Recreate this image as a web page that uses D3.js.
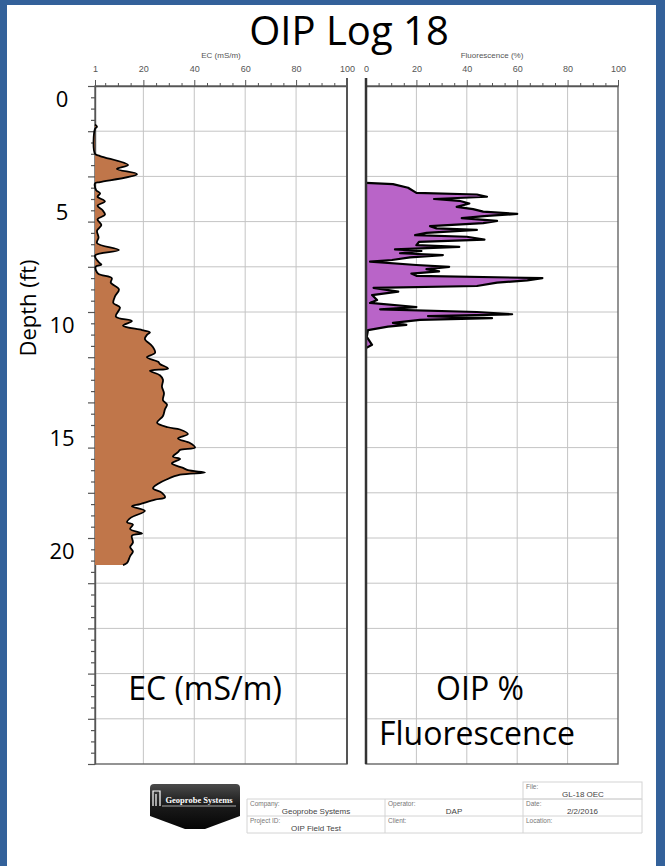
<!DOCTYPE html>
<html>
<head>
<meta charset="utf-8">
<script src="https://cdn.jsdelivr.net/npm/d3@7"></script>
<style>
  html, body { margin: 0; padding: 0; background: #fff; }
  svg { display: block; }
</style>
</head>
<body>
<script>
// EC log: depth (ft) and EC (mS/m)
const ecDepth = [1.7, 1.8, 1.9, 3.0, 3.1, 3.5, 3.67, 3.9, 4.25, 4.3,
  4.6, 4.75, 4.9, 5.1, 5.3, 5.5, 5.7, 5.9, 6.15, 6.4, 6.7, 6.95, 7.26, 7.5,
  7.8, 7.9, 8.0, 8.3, 8.5, 8.7, 9.0, 9.3, 9.6, 9.8, 10.2, 10.4, 10.6, 10.8, 10.9, 11.0,
  11.2, 11.5, 11.8, 12.0, 12.2, 12.3, 12.5, 12.6, 12.8, 13.0, 13.3, 13.6, 13.9,
  14.1, 14.3, 14.6, 14.9, 15.1, 15.2, 15.4, 15.6, 15.8, 16.0, 16.1, 16.2, 16.4,
  16.5, 16.7, 16.9, 17.0, 17.1, 17.2, 17.4, 17.6, 17.8, 18.0, 18.2, 18.3, 18.5,
  18.6, 18.8, 19.1, 19.3, 19.4, 19.6, 19.8, 19.9, 20.2, 20.4, 20.6, 20.8, 21.1, 21.2];
const ecValue = [1, 1.8, 1, 1, 3, 14, 9.6, 17.5, 3, 1,
  1.4, 3, 2, 4.9, 2, 4, 4.9, 2, 3.5, 1.8, 2.4, 1.8, 10.4, 1,
  2.5, 3.5, 1.2, 2.2, 7.6, 7.2, 10.4, 8.9, 8.2, 10.8, 9.2, 15.5, 12, 19.5, 22.6, 21.5,
  20.6, 23.4, 24.6, 21.4, 25.8, 26.5, 29.7, 22.6, 26.5, 27.7, 27.3, 28.1, 27.7,
  29.3, 28.5, 27.7, 25.4, 29.7, 34.4, 37.5, 33.6, 38.3, 40.3, 34.4, 33.6, 31.6,
  34.4, 31.2, 35.6, 37.5, 44.2, 34.4, 29.3, 25.8, 23.8, 27.3, 28.5, 24.6, 18.7,
  15.5, 20.6, 15.1, 13.6, 15.9, 14.8, 19.5, 15.5, 15.9, 14.8, 15.9, 14.8, 13.6, 12];

// OIP log: depth (ft) and fluorescence (%)
const oipDepth = [4.29, 4.34, 4.5, 4.73, 4.8, 4.9, 5.0, 5.08, 5.2, 5.35, 5.45, 5.56,
  5.66, 5.75, 5.85, 5.97, 6.07, 6.2, 6.3, 6.37, 6.5, 6.6, 6.67, 6.8, 6.9, 7.04,
  7.12, 7.23, 7.3, 7.4, 7.48, 7.58, 7.7, 7.77, 7.92, 8.0, 8.1, 8.2, 8.3, 8.4,
  8.5, 8.6, 8.7, 8.85, 8.93, 9.1, 9.25, 9.47, 9.6, 9.78, 9.88, 10.0, 10.1, 10.18,
  10.27, 10.35, 10.48, 10.57, 10.65, 10.8, 11.1, 11.45, 11.6];
const oipValue = [0, 10.7, 16.7, 20, 44, 48, 27, 37, 41, 36, 42.5, 46.5,
  60, 48, 38, 52, 46.5, 25.4, 28, 44, 24, 19.5, 40, 47, 21, 20,
  37, 11.5, 22, 13.5, 30.5, 17.5, 10.3, 1.6, 20, 33, 24, 29, 18, 20,
  70, 64, 52, 44, 3, 12.8, 2.4, 4.4, 1.6, 20, 5.6, 44, 58, 24.6,
  50, 21.4, 10.7, 16, 8.7, 0.8, 0.3, 2.4, 0];

const depthLabels = [0, 5, 10, 15, 20];
const ecTicks = [1, 20, 40, 60, 80, 100];
const oipTicks = [0, 20, 40, 60, 80, 100];
const footerLabels = [["Company:", "Operator:", "Date:"], ["Project ID:", "Client:", "Location:"]];
const footerValues = [["Geoprobe Systems", "DAP", "2/2/2016"], ["OIP Field Test", "", ""]];

let svgContainer = "";

window.onload = function() {
  svgContainer = d3.select("body")
    .append("svg")
    .attr("width", 665)
    .attr("height", 866);

  // slide frame
  svgContainer.append("rect").attr("x", 0).attr("y", 0).attr("width", 665).attr("height", 866).attr("fill", "#33619a");
  svgContainer.append("rect").attr("x", 7).attr("y", 5).attr("width", 649).attr("height", 861).attr("fill", "#fff");

  let yScale = d3.scaleLinear().domain([0, 30]).range([86, 764]);
  let ecScale = d3.scaleLinear().domain([1, 100]).range([95, 347]);
  let oipScale = d3.scaleLinear().domain([0, 100]).range([366, 618]);

  drawPanel(ecScale, yScale, ecTicks, "EC (mS/m)", true);
  drawPanel(oipScale, yScale, oipTicks, "Fluorescence (%)", false);

  drawLog(ecDepth, ecValue, ecScale, yScale, 1, "#c0764a", d3.curveCatmullRom, 1.8);
  drawLog(oipDepth, oipValue, oipScale, yScale, 0, "#b964c8", d3.curveLinear, 2.2);

  // panel edges on top of the fills
  svgContainer.append("line").attr("x1", 347).attr("x2", 347).attr("y1", 78).attr("y2", 764)
    .attr("stroke", "#555").attr("stroke-width", 2);
  svgContainer.append("line").attr("x1", 366).attr("x2", 366).attr("y1", 78).attr("y2", 764)
    .attr("stroke", "#333").attr("stroke-width", 2.5);

  makeLabels(yScale);
  makeFooter();
}

function drawPanel(xScale, yScale, ticks, title, depthAxis) {
  let x0 = xScale.range()[0], x1 = xScale.range()[1];
  let y0 = yScale.range()[0], y1 = yScale.range()[1];

  // grid
  let grid = svgContainer.append("g");
  grid.selectAll(".vgrid")
    .data(ticks.slice(1, -1))
    .enter()
    .append("line")
      .attr("x1", (d) => xScale(d)).attr("x2", (d) => xScale(d))
      .attr("y1", y0).attr("y2", y1)
      .attr("stroke", "#c4c4c4").attr("stroke-width", 1);
  grid.selectAll(".hgrid")
    .data(d3.range(2, 30, 2))
    .enter()
    .append("line")
      .attr("x1", x0).attr("x2", x1)
      .attr("y1", (d) => yScale(d)).attr("y2", (d) => yScale(d))
      .attr("stroke", "#c4c4c4").attr("stroke-width", 1);

  // box
  svgContainer.append("rect")
    .attr("x", x0).attr("y", y0).attr("width", x1 - x0).attr("height", y1 - y0)
    .attr("fill", "none").attr("stroke", "#666").attr("stroke-width", 1.4);

  // top axis, labelled ticks + minor ticks
  let minor = d3.range(xScale.domain()[0] === 1 ? 5 : 5, 100, 5).filter((d) => d % 20 !== 0);
  svgContainer.append("g")
    .attr("transform", "translate(0," + y0 + ")")
    .call(d3.axisTop(xScale).tickValues(minor).tickSize(3).tickFormat(""))
    .call((g) => g.select(".domain").remove())
    .call((g) => g.selectAll("line").attr("stroke", "#555"));
  svgContainer.append("g")
    .attr("transform", "translate(0," + y0 + ")")
    .call(d3.axisTop(xScale).tickValues(ticks).tickSize(6).tickPadding(8).tickSizeOuter(0))
    .call((g) => g.select(".domain").attr("stroke", "#555").attr("stroke-width", 1.4))
    .call((g) => g.selectAll("line").attr("stroke", "#555"))
    .call((g) => g.selectAll("text").attr("fill", "#555")
      .style("font-family", "Liberation Sans, Arial, sans-serif").style("font-size", "9px"));

  svgContainer.append("text")
    .attr("x", (x0 + x1) / 2).attr("y", 58)
    .attr("text-anchor", "middle")
    .style("font-family", "Liberation Sans, Arial, sans-serif")
    .style("font-size", "8px").attr("fill", "#555")
    .text(title);

  if (depthAxis) {
    svgContainer.append("g")
      .attr("transform", "translate(" + x0 + ",0)")
      .call(d3.axisLeft(yScale).tickValues(d3.range(0.5, 30, 0.5).filter((d) => d % 2 !== 0)).tickSize(4).tickFormat(""))
      .call((g) => g.select(".domain").remove())
      .call((g) => g.selectAll("line").attr("stroke", "#555").attr("stroke-width", 1.2));
    svgContainer.append("g")
      .attr("transform", "translate(" + x0 + ",0)")
      .call(d3.axisLeft(yScale).tickValues(d3.range(0, 31, 2)).tickSize(7).tickFormat("").tickSizeOuter(0))
      .call((g) => g.select(".domain").attr("stroke", "#555").attr("stroke-width", 1.4))
      .call((g) => g.selectAll("line").attr("stroke", "#555").attr("stroke-width", 1.2));
  }
}

function drawLog(depths, values, xScale, yScale, base, color, curve, width) {
  let rows = depths.map((d, i) => ({ depth: d, value: values[i] }));

  let area = d3.area()
    .curve(curve)
    .y((d) => yScale(d.depth))
    .x0(xScale(base))
    .x1((d) => xScale(d.value));
  svgContainer.append("path")
    .datum(rows)
    .attr("d", area)
    .attr("fill", color);

  let line = d3.line()
    .curve(curve)
    .y((d) => yScale(d.depth))
    .x((d) => xScale(d.value));
  svgContainer.append("path")
    .datum(rows)
    .attr("d", line)
    .attr("fill", "none")
    .attr("stroke", "#000")
    .attr("stroke-width", width)
    .attr("stroke-linejoin", "round");
}

function makeLabels(yScale) {
  let big = "Open Sans, sans-serif";

  svgContainer.append("text")
    .attr("x", 349).attr("y", 45)
    .attr("text-anchor", "middle")
    .style("font-family", big).style("font-size", "40px")
    .text("OIP Log 18");

  svgContainer.selectAll(".depthlabel")
    .data(depthLabels)
    .enter()
    .append("text")
      .attr("x", 62)
      .attr("y", (d) => yScale(d) + 21)
      .attr("text-anchor", "middle")
      .style("font-family", big).style("font-size", "22px")
      .text((d) => d);

  svgContainer.append("text")
    .attr("transform", "translate(36, 308)rotate(-90)")
    .attr("text-anchor", "middle")
    .style("font-family", big).style("font-size", "22px")
    .text("Depth (ft)");

  svgContainer.append("text")
    .attr("x", 205).attr("y", 700)
    .attr("text-anchor", "middle")
    .style("font-family", big).style("font-size", "32px")
    .text("EC (mS/m)");
  svgContainer.append("text")
    .attr("x", 480).attr("y", 700)
    .attr("text-anchor", "middle")
    .style("font-family", big).style("font-size", "32px")
    .text("OIP %");
  svgContainer.append("text")
    .attr("x", 477).attr("y", 745)
    .attr("text-anchor", "middle")
    .style("font-family", big).style("font-size", "32px")
    .text("Fluorescence");
}

function makeFooter() {
  let font = "Liberation Sans, Arial, sans-serif";

  // logo badge
  let grad = svgContainer.append("defs").append("linearGradient")
    .attr("id", "badge").attr("x1", 0).attr("x2", 0).attr("y1", 0).attr("y2", 1);
  grad.append("stop").attr("offset", "0%").attr("stop-color", "#4a4a4a");
  grad.append("stop").attr("offset", "45%").attr("stop-color", "#1c1c1c");
  grad.append("stop").attr("offset", "100%").attr("stop-color", "#050505");
  svgContainer.append("path")
    .attr("d", "M150,788 Q150,784 154,784 L236,784 Q240,784 240,788 L240,816 L205,829 L185,829 L150,816 Z")
    .attr("fill", "url(#badge)");
  svgContainer.append("path")
    .attr("d", "M153,806 L153,791 L160,791 L160,806 M156,794 L156,806")
    .attr("fill", "none").attr("stroke", "#fff").attr("stroke-width", 1.2);
  svgContainer.append("text")
    .attr("x", 199).attr("y", 803)
    .attr("text-anchor", "middle")
    .style("font-family", "Liberation Serif, serif").style("font-weight", "bold").style("font-size", "8.5px")
    .attr("fill", "#fff")
    .text("Geoprobe Systems");
  svgContainer.append("line")
    .attr("x1", 162).attr("x2", 236).attr("y1", 806).attr("y2", 806)
    .attr("stroke", "#ccc").attr("stroke-width", 0.8);

  // info table
  let colX = [247, 385, 523, 642];
  let rowY = [799, 816, 833];
  let table = svgContainer.append("g").attr("stroke", "#d4d4d4").attr("stroke-width", 1).attr("fill", "none");
  table.append("rect").attr("x", 523).attr("y", 782).attr("width", 119).attr("height", 17);
  rowY.forEach((y) => table.append("line").attr("x1", 247).attr("x2", 642).attr("y1", y).attr("y2", y));
  colX.forEach((x) => table.append("line").attr("x1", x).attr("x2", x).attr("y1", 799).attr("y2", 833));

  svgContainer.append("text").attr("x", 526).attr("y", 789)
    .style("font-family", font).style("font-size", "6.5px").attr("fill", "#777").text("File:");
  svgContainer.append("text").attr("x", 583).attr("y", 797).attr("text-anchor", "middle")
    .style("font-family", font).style("font-size", "8px").attr("fill", "#444").text("GL-18 OEC");

  footerLabels.forEach((row, r) => {
    row.forEach((label, c) => {
      svgContainer.append("text")
        .attr("x", colX[c] + 3).attr("y", rowY[r] + 6.5)
        .style("font-family", font).style("font-size", "6.5px").attr("fill", "#777")
        .text(label);
      svgContainer.append("text")
        .attr("x", (colX[c] + colX[c + 1]) / 2).attr("y", rowY[r] + 14.5)
        .attr("text-anchor", "middle")
        .style("font-family", font).style("font-size", "8px").attr("fill", "#444")
        .text(footerValues[r][c]);
    });
  });
}
</script>
</body>
</html>
